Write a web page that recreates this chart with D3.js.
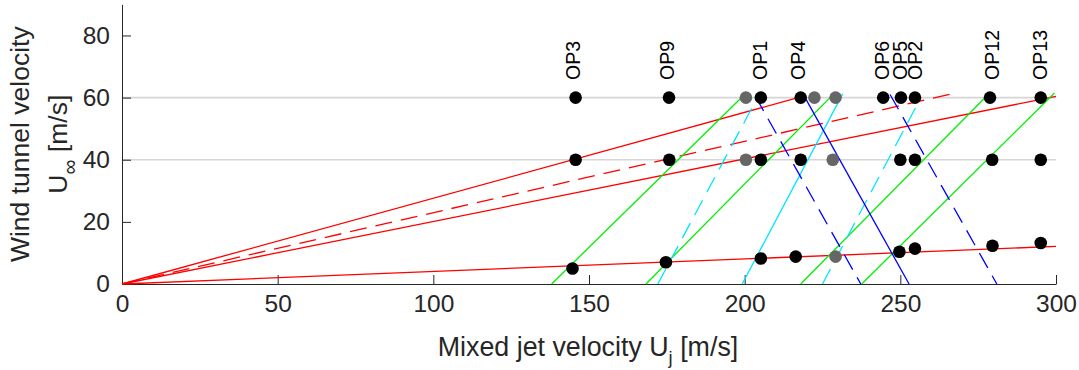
<!DOCTYPE html>
<html>
<head>
<meta charset="utf-8">
<script src="https://cdn.jsdelivr.net/npm/d3@7"></script>
<style>
  html, body { margin: 0; padding: 0; background: #fff; }
  svg { display: block; font-family: "Liberation Sans", Arial, Helvetica, sans-serif; }
</style>
</head>
<body>
<svg id="chart" width="1079" height="370"></svg>
<script>
// ---------------- DATA ----------------
const opNames   = ["OP3", "OP9", "OP1", "OP4", "OP6", "OP5", "OP2", "OP12", "OP13"];
const labelUj   = [144.9, 175.1, 204.9, 217.1, 244.0, 249.9, 254.7, 279.4, 294.9];
const ujAt60    = [145.7, 175.7, 205.2, 218.0, 244.5, 250.2, 254.7, 278.8, 295.1];
const ujAt40    = [145.7, 175.8, 205.2, 218.0, null, 250.0, 254.7, 279.5, 295.1];
const ujLow     = [144.7, 174.7, 205.2, 216.4, null, 249.7, 254.7, 279.6, 295.1];
const uLow      = [5.0, 7.0, 8.2, 8.8, null, 10.4, 11.4, 12.3, 13.2];

const grayUj60  = [200.4, 222.4, 229.2];
const grayUj40  = [200.4, 228.3];
const grayUjLow = [229.2];
const grayULow  = [8.8];

const refLevels = [40, 60];

// line segments: [[Uj start, U start], [Uj end, U end]]
const redSolid  = [[[0, 0], [218.3, 60.3]], [[0, 0], [300, 60.4]], [[0, 0], [300, 12.1]]];
const redDashed = [[[0, 0], [266.5, 61.2]]];
const greenSolid = [[[138.0, 0], [199.5, 60.5]], [[168.3, 0], [227.4, 60]], [[218.0, 0], [277.5, 60.3]], [[237.6, 0], [299.5, 61.5]]];
const cyanSolid  = [[[199.2, 0], [231.5, 61.2]]];
const cyanDashed = [[[172.1, 0], [204.1, 60]], [[225.0, 0], [256.6, 60]]];
const blueSolid  = [[[219.4, 60], [252.8, 0]]];
const blueDashed = [[[203.4, 60.5], [237.3, 0]], [[246.7, 61], [281.0, 0]]];

const xTicks = [0, 50, 100, 150, 200, 250, 300];
const yTicks = [0, 20, 40, 60, 80];

// ---------------- LAYOUT ----------------
const svg = d3.select("#chart");
const mLeft = 122, mRight = 1056, mTop = 4.4, mBottom = 284;
const x = d3.scaleLinear().domain([0, 300]).range([mLeft, mRight]);
const y = d3.scaleLinear().domain([0, 90]).range([mBottom, mTop]);
const axisColor = "#262626";

// reference gray lines
svg.append("g").selectAll("line").data(refLevels).join("line")
  .attr("x1", x(0)).attr("x2", x(300))
  .attr("y1", d => y(d)).attr("y2", d => y(d))
  .attr("stroke", "#d6d6d6").attr("stroke-width", 1.6);

// axes
const xAxis = d3.axisBottom(x).tickValues(xTicks).tickSizeInner(-9).tickSizeOuter(0).tickPadding(11);
const yAxis = d3.axisLeft(y).tickValues(yTicks).tickSizeInner(-9).tickSizeOuter(0).tickPadding(12);

const gx = svg.append("g").attr("transform", `translate(0,${mBottom})`).call(xAxis);
const gy = svg.append("g").attr("transform", `translate(${mLeft},0)`).call(yAxis);
[gx, gy].forEach(g => {
  g.attr("color", axisColor);
  g.selectAll("text").attr("font-size", 24.5).attr("font-family", "Liberation Sans, Arial, sans-serif").attr("fill", axisColor);
  g.select(".domain").attr("stroke-width", 1);
  g.selectAll(".tick line").attr("stroke-width", 1);
});

// lines
const line = d3.line().x(d => x(d[0])).y(d => y(d[1]));
function drawSegs(data, color, dashed) {
  svg.append("g").selectAll("path").data(data).join("path")
    .attr("d", line)
    .attr("fill", "none")
    .attr("stroke", color)
    .attr("stroke-width", 1.3)
    .attr("stroke-dasharray", dashed ? "17,9" : null);
}
drawSegs(redSolid, "#ff0000", false);
drawSegs(redDashed, "#ff0000", true);
drawSegs(greenSolid, "#00ee00", false);
drawSegs(cyanSolid, "#00e5ff", false);
drawSegs(cyanDashed, "#00e5ff", true);
drawSegs(blueSolid, "#0000ff", false);
drawSegs(blueDashed, "#0000ff", true);

// dots
const r = 6.3;
function dots(xs, ys, color) {
  const pts = xs.map((v, i) => [v, ys[i]]).filter(p => p[0] != null && p[1] != null);
  svg.append("g").selectAll("circle").data(pts).join("circle")
    .attr("cx", d => x(d[0])).attr("cy", d => y(d[1])).attr("r", r)
    .attr("fill", color);
}
dots(grayUj60, grayUj60.map(() => 60), "#666666");
dots(grayUj40, grayUj40.map(() => 40), "#666666");
dots(grayUjLow, grayULow, "#666666");
dots(ujAt60, ujAt60.map(() => 60), "#000000");
dots(ujAt40, ujAt40.map(() => 40), "#000000");
dots(ujLow, uLow, "#000000");

// OP labels (rotated)
svg.append("g").selectAll("text").data(opNames).join("text")
  .attr("transform", (d, i) => `translate(${x(labelUj[i])},${y(65.7)}) rotate(-90)`)
  .attr("dy", "0.36em")
  .attr("font-size", 19.5)
  .attr("fill", "#000")
  .text(d => d);

// x label
const xl = svg.append("text")
  .attr("x", 588).attr("y", 356)
  .attr("text-anchor", "middle")
  .attr("font-size", 26.8).attr("fill", axisColor);
xl.append("tspan").text("Mixed jet velocity U");
xl.append("tspan").attr("font-size", 18.5).attr("dy", 8).text("j");
xl.append("tspan").attr("dy", -8).text(" [m/s]");

// y label (two lines)
const midY = (mTop + mBottom) / 2;
svg.append("text")
  .attr("transform", `translate(29,${midY}) rotate(-90)`)
  .attr("text-anchor", "middle")
  .attr("font-size", 26.5).attr("fill", axisColor)
  .text("Wind tunnel velocity");
const yl2 = svg.append("text")
  .attr("transform", `translate(67,${midY}) rotate(-90)`)
  .attr("text-anchor", "middle")
  .attr("font-size", 26.5).attr("fill", axisColor);
yl2.append("tspan").text("U");
yl2.append("tspan").attr("font-size", 21).attr("dy", 10).text("∞");
yl2.append("tspan").attr("dy", -10).text(" [m/s]");
</script>
</body>
</html>
